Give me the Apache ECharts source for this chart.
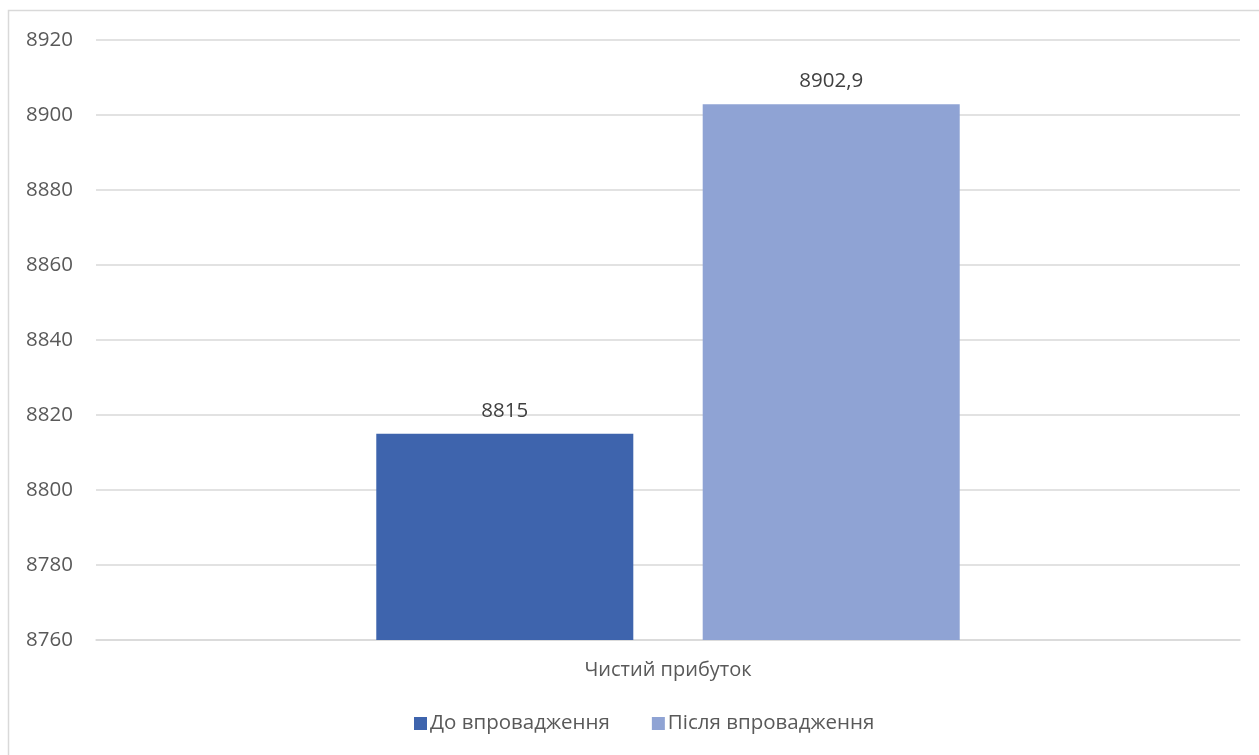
<!DOCTYPE html>
<html><head><meta charset="utf-8">
<script src="https://cdn.jsdelivr.net/npm/echarts@6/dist/echarts.min.js"></script>
<style>html,body{margin:0;padding:0;background:#fff}#c{width:1259px;height:755px}</style>
</head><body><div id="c"></div>
<script>
const categories = ['Чистий прибуток'];
const seriesNames = ['До впровадження', 'Після впровадження'];
const beforeValues = [8815];
const afterValues = [8902.9];
const yMin = 8760, yMax = 8920, yStep = 20;

const font = '"Open Sans", "DejaVu Sans", sans-serif';
const txt = '#595959';
const chart = echarts.init(document.getElementById('c'), null, {renderer: 'canvas'});
const lbl = {show: true, position: 'top', distance: 12, color: '#404040', fontSize: 20.5, fontFamily: font,
  formatter: p => String(p.value).replace('.', ',')};
chart.setOption({
  animation: false,
  graphic: [{type: 'rect', shape: {x: 8.5, y: 10.5, width: 1300, height: 800},
    style: {fill: 'none', stroke: '#D9D9D9', lineWidth: 1.5}, silent: true}],
  grid: {left: 96, right: 19, top: 40, bottom: 115},
  legend: {bottom: 16, left: 409, itemWidth: 13, itemHeight: 13, itemGap: 42, icon: 'rect',
    textStyle: {color: txt, fontSize: 20.5, fontFamily: font, padding: [0, 0, 0, -2]}, data: seriesNames},
  xAxis: {type: 'category', data: categories,
    axisLine: {lineStyle: {color: '#D9D9D9', width: 1.5}}, axisTick: {show: false},
    axisLabel: {color: txt, fontSize: 20, fontFamily: font, margin: 20}},
  yAxis: {type: 'value', min: yMin, max: yMax, interval: yStep,
    axisLine: {show: false}, axisTick: {show: false},
    splitLine: {lineStyle: {color: '#D9D9D9', width: 1.5}},
    axisLabel: {color: txt, fontSize: 20.5, fontFamily: font, margin: 23, formatter: v => String(v)}},
  series: [
    {name: seriesNames[0], type: 'bar', data: beforeValues, barGap: '27%', barCategoryGap: '49%',
      itemStyle: {color: '#3E64AD'}, label: lbl},
    {name: seriesNames[1], type: 'bar', data: afterValues, barGap: '27%', barCategoryGap: '49%',
      itemStyle: {color: '#8FA3D4'}, label: lbl}
  ]
});
</script></body></html>
